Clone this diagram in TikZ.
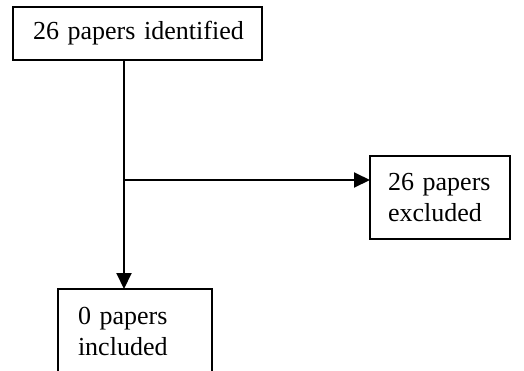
\documentclass[tikz,border=0pt]{standalone}
\usepackage{fontspec}
\setmainfont{Liberation Serif}
\usetikzlibrary{arrows.meta}
\begin{document}
\begin{tikzpicture}[x=1pt,y=-1pt,
  box/.style={draw, line width=2pt, anchor=north west, outer sep=0pt,
    inner xsep=20pt, inner ysep=0pt, align=left,
    font=\fontsize{26}{31}\selectfont},
  arr/.style={line width=2pt, -{Triangle[length=16pt,width=15pt]}}]
\useasboundingbox (0,0) rectangle (524,370);
\clip (0,0) rectangle (524,370);
\node[box, text width=209pt, minimum height=53pt] (a) at (13,7) {\mbox{26 papers identified}};
\node[box, inner xsep=18pt, text width=104pt, minimum height=83pt] (b) at (370,156) {\mbox{26 papers}\\\mbox{excluded}};
\node[box, text width=114pt, minimum height=84pt] (c) at (58,289) {\mbox{0 papers}\\\mbox{included}};
\coordinate (top) at ([xshift=111pt]a.south west);
\coordinate (j) at (top |- 0,180);
\draw[arr] (top) -- (top |- c.north);
\draw[arr] (j) -- (j -| b.west);
\end{tikzpicture}
\end{document}
